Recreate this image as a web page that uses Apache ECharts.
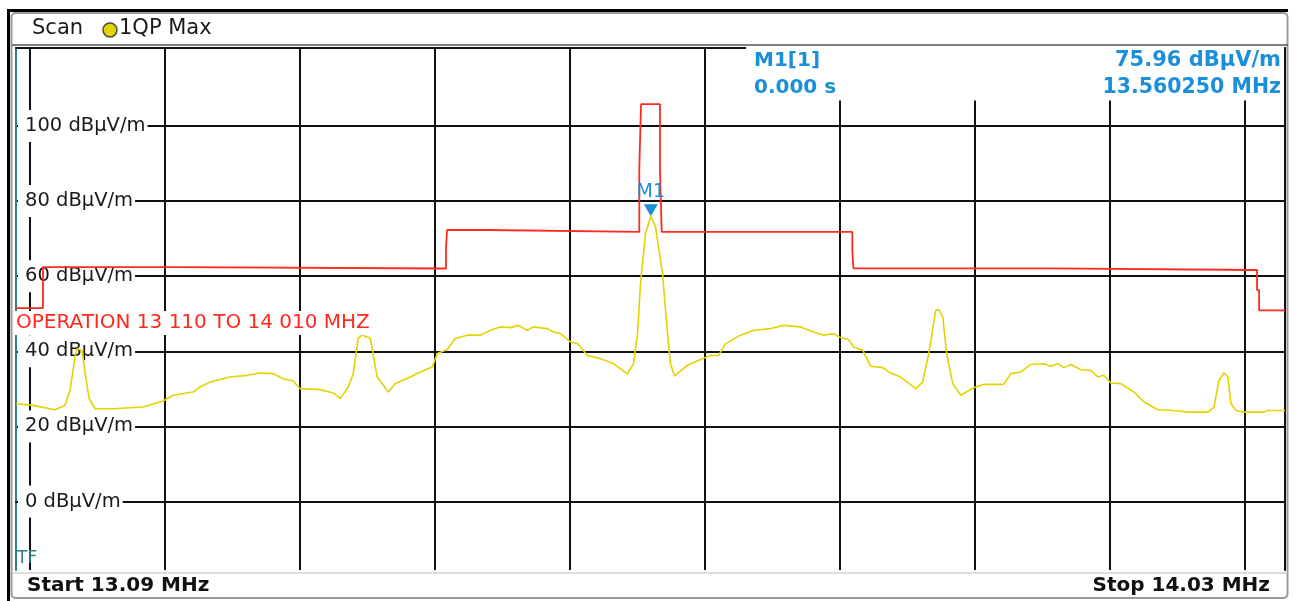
<!DOCTYPE html>
<html><head><meta charset="utf-8">
<script src="https://cdn.jsdelivr.net/npm/echarts@6/dist/echarts.min.js"></script>
<style>html,body{margin:0;padding:0;background:#fff}#c{width:1295px;height:601px}</style>
</head><body><div id="c"></div>
<script>
// ---- data ----
const freqStart = 13.09, freqStop = 14.03;
const levelMin = -18.24, levelMax = 120.77;
const levelTicks = [0, 20, 40, 60, 80, 100];
const freqGrid = [13.1, 13.2, 13.3, 13.4, 13.5, 13.6, 13.7, 13.8, 13.9, 14.0];
const traceFreq = [13.0900,13.1026,13.1189,13.1263,13.1300,13.1337,13.1352,13.1389,13.1412,13.1441,13.1486,13.1619,13.1841,13.1990,13.2064,13.2212,13.2264,13.2338,13.2486,13.2612,13.2709,13.2805,13.2879,13.2953,13.3005,13.3154,13.3250,13.3302,13.3361,13.3398,13.3435,13.3465,13.3524,13.3576,13.3658,13.3710,13.3821,13.3895,13.3984,13.4021,13.4095,13.4154,13.4243,13.4340,13.4414,13.4488,13.4562,13.4621,13.4688,13.4733,13.4836,13.4881,13.4933,13.5007,13.5059,13.5133,13.5229,13.5326,13.5429,13.5474,13.5504,13.5526,13.5563,13.56025,13.5637,13.5689,13.5726,13.5748,13.5778,13.5874,13.5971,13.6045,13.6104,13.6156,13.6267,13.6364,13.6490,13.6586,13.6712,13.6808,13.6882,13.6957,13.7008,13.7068,13.7105,13.7172,13.7231,13.7320,13.7379,13.7453,13.7565,13.7616,13.7661,13.7713,13.7735,13.7765,13.7794,13.7839,13.7898,13.7994,13.8069,13.8217,13.8269,13.8343,13.8417,13.8513,13.8565,13.8617,13.8662,13.8714,13.8788,13.8862,13.8914,13.8958,13.9010,13.9084,13.9181,13.9255,13.9358,13.9477,13.9581,13.9729,13.9774,13.9811,13.9848,13.9877,13.9900,13.9937,13.9996,14.0144,14.0174,14.0300];
const traceLevel = [26.05,25.6,24.45,25.6,29.6,38.5,40.7,40.3,34.1,27.5,24.7,24.7,25.15,26.75,28.3,29.15,30.5,31.8,33.15,33.6,34.2,34.05,32.7,32.1,30.05,29.8,28.9,27.4,30.5,34.05,43.5,44.3,43.5,33.15,29.15,31.4,33.15,34.5,35.8,39.4,40.5,43.4,44.3,44.3,45.6,46.5,46.3,46.9,45.6,46.5,46.05,45.15,44.7,42.5,42.05,38.9,38.05,36.7,33.9,36.7,44.7,58.05,71.4,75.96,73.15,60.7,44.7,36.7,33.4,36.3,37.8,38.9,38.9,42.05,44.3,45.6,46.05,46.9,46.5,45.15,44.3,44.7,43.65,43.1,41.15,40.3,36.0,35.65,34.2,33.15,30.05,31.8,39.4,50.9,51.1,49.15,39.4,31.4,28.3,30.3,31.2,31.2,34.05,34.5,36.5,36.7,36.0,36.7,35.65,36.5,35.1,34.9,33.15,33.6,31.55,31.4,29.15,26.5,24.45,24.25,23.8,23.8,25.15,32.3,34.2,33.15,26.05,24.25,23.8,23.8,24.25,24.25];
const limitFreq = [13.09,13.11,13.11,13.21,13.21,13.4085,13.4085,13.4093,13.4093,13.44,13.44,13.5517,13.5517,13.5530,13.5530,13.5670,13.5670,13.5683,13.5683,13.7095,13.7095,13.7103,13.7103,13.855,13.855,14.0093,14.0093,14.0108,14.0108,14.03];
const limitLevel = [51.5,51.5,62.4,62.4,62.05,62.05,67.4,67.4,72.3,72.3,71.8,71.8,88.7,88.7,105.8,105.8,88.7,88.7,71.8,71.8,67.0,67.0,62.1,62.1,61.65,61.65,56.3,56.3,50.9,50.9];
const markerName = 'M1', markerFreq = 13.56025, markerLevel = 75.96;
const limitText = 'OPERATION 13 110 TO 14 010 MHZ';

// ---- chart ----
const chart = echarts.init(document.getElementById('c'), null, {renderer: 'canvas'});
const FONT = 'DejaVu Sans';
const BLUE = '#1b8fd9';
const GRID = '#111';
const zip = (a, b) => a.map((v, i) => [v, b[i]]);

chart.setOption({
  animation: false,
  backgroundColor: '#fff',
  grid: {left: 16, right: 10, top: 48, bottom: 31, show: false},
  xAxis: [
    {type: 'value', min: freqStart, max: freqStop, position: 'bottom',
     axisLine: {show: true, lineStyle: {color: GRID, width: 2}},
     axisTick: {show: false, customValues: freqGrid},
     axisLabel: {show: false},
     splitLine: {show: true, lineStyle: {color: GRID, width: 2}}},
    {type: 'value', min: freqStart, max: freqStop, position: 'top',
     axisLine: {show: true, onZero: false, lineStyle: {color: GRID, width: 2}},
     axisTick: {show: false}, axisLabel: {show: false}, splitLine: {show: false}}
  ],
  yAxis: [
    {type: 'value', min: levelMin, max: levelMax, position: 'left',
     axisLine: {show: true, onZero: false, lineStyle: {color: '#2f7f88', width: 2}},
     axisTick: {show: false, customValues: levelTicks},
     axisLabel: {show: false},
     splitLine: {show: true, lineStyle: {color: GRID, width: 2}}},
    {type: 'value', min: levelMin, max: levelMax, position: 'right',
     axisLine: {show: true, onZero: false, lineStyle: {color: GRID, width: 2}},
     axisTick: {show: false}, axisLabel: {show: false}, splitLine: {show: false}},
    {type: 'value', min: levelMin, max: levelMax, position: 'left', z: 1,
     axisLine: {show: false}, axisTick: {show: false}, splitLine: {show: false},
     axisLabel: {show: true, inside: true, margin: 2, customValues: levelTicks,
       formatter: v => v + ' dBµV/m', color: '#1a1a1a', fontFamily: FONT, fontSize: 19.5,
       backgroundColor: '#fff', padding: [5, 2, 5, 7], lineHeight: 22}}
  ],
  series: [
    {name: 'Limit', type: 'line', xAxisIndex: 0, yAxisIndex: 0, data: zip(limitFreq, limitLevel),
     showSymbol: false, symbol: 'none', lineStyle: {color: '#ff2a1f', width: 1.8}, z: 3},
    {name: '1QP Max', type: 'line', xAxisIndex: 0, yAxisIndex: 0, data: zip(traceFreq, traceLevel),
     showSymbol: false, symbol: 'none', lineStyle: {color: '#e3d300', width: 1.6}, z: 4,
     markPoint: {
       symbol: 'path://M0,0 L14,0 L7,12 Z', symbolSize: [14, 12], symbolOffset: [0, -6],
       itemStyle: {color: BLUE},
       label: {show: true, position: 'top', distance: 3, formatter: markerName,
               color: BLUE, fontFamily: FONT, fontSize: 19},
       data: [{coord: [markerFreq, markerLevel]}]
     }}
  ],
  graphic: [
    // frame
    {type: 'rect', z: 0, shape: {x: 7, y: 9, width: 3, height: 592}, style: {fill: '#000'}},
    {type: 'rect', z: 0, shape: {x: 7, y: 9, width: 1281, height: 3}, style: {fill: '#000'}},
    {type: 'rect', z: 0, shape: {x: 11.5, y: 13, width: 1276, height: 585, r: 4}, style: {fill: 'none', stroke: '#9a9a9a', lineWidth: 2}},
    {type: 'line', z: 0, shape: {x1: 12, y1: 45, x2: 1288, y2: 45}, style: {stroke: '#555', lineWidth: 1.5}},
    {type: 'line', z: 0, shape: {x1: 12, y1: 573, x2: 1288, y2: 573}, style: {stroke: '#bbb', lineWidth: 1}},
    // header
    {type: 'text', z: 10, x: 32, y: 29, style: {text: 'Scan', font: '21px ' + FONT, fill: '#1a1a1a', verticalAlign: 'middle'}},
    {type: 'circle', z: 10, shape: {cx: 110, cy: 30, r: 7}, style: {fill: '#e6d200', stroke: '#4a4a3a', lineWidth: 1.5}},
    {type: 'text', z: 10, x: 119, y: 29, style: {text: '1QP Max', font: '21px ' + FONT, fill: '#1a1a1a', verticalAlign: 'middle'}},
    // marker info box
    {type: 'rect', z: 1, shape: {x: 746, y: 46.5, width: 538, height: 54}, style: {fill: '#fff'}},
    {type: 'text', z: 10, x: 754, y: 61, style: {text: markerName + '[1]', font: 'bold 20px ' + FONT, fill: BLUE, verticalAlign: 'middle'}},
    {type: 'text', z: 10, x: 754, y: 88, style: {text: '0.000 s', font: 'bold 20px ' + FONT, fill: BLUE, verticalAlign: 'middle'}},
    {type: 'text', z: 10, x: 1281, y: 61, style: {text: markerLevel.toFixed(2) + ' dBµV/m', font: 'bold 21px ' + FONT, fill: BLUE, align: 'right', verticalAlign: 'middle'}},
    {type: 'text', z: 10, x: 1281, y: 88, style: {text: markerFreq.toFixed(6) + ' MHz', font: 'bold 20.5px ' + FONT, fill: BLUE, align: 'right', verticalAlign: 'middle'}},
    // limit line label
    {type: 'text', z: 10, x: 13, y: 323, style: {text: limitText, font: '20px ' + FONT, fill: '#ff2a1f', verticalAlign: 'middle', backgroundColor: '#fff', padding: [2, 2, 2, 3]}},
    // TF
    {type: 'text', z: 10, x: 17, y: 559, style: {text: 'TF', font: '17px ' + FONT, fill: '#2f7f88', verticalAlign: 'middle'}},
    // start / stop
    {type: 'text', z: 10, x: 27, y: 586, style: {text: 'Start ' + freqStart.toFixed(2) + ' MHz', font: 'bold 20px ' + FONT, fill: '#111', verticalAlign: 'middle'}},
    {type: 'text', z: 10, x: 1270, y: 586, style: {text: 'Stop ' + freqStop.toFixed(2) + ' MHz', font: 'bold 20px ' + FONT, fill: '#111', align: 'right', verticalAlign: 'middle'}}
  ]
});
</script></body></html>
